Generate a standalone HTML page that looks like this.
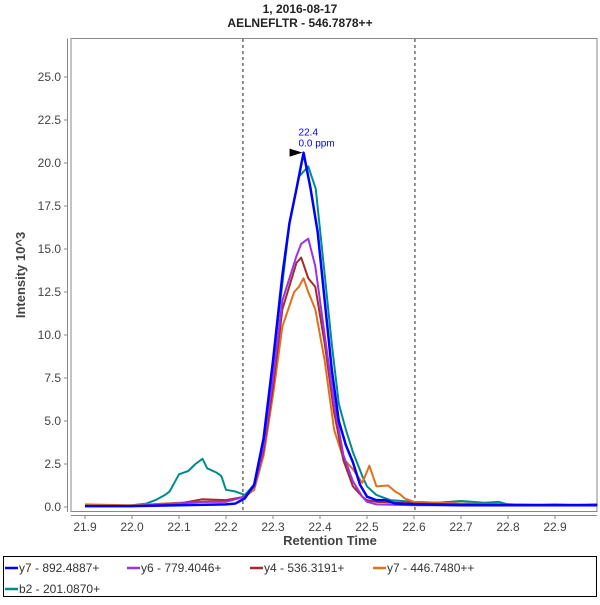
<!DOCTYPE html>
<html><head><meta charset="utf-8"><style>
body{margin:0;background:#fff;font-family:"Liberation Sans","DejaVu Sans",sans-serif;}
svg text{font-family:"Liberation Sans","DejaVu Sans",sans-serif;}
</style></head><body>
<svg id="c" width="600" height="600" xmlns="http://www.w3.org/2000/svg">
<text x="300" y="13" text-anchor="middle" font-size="12" font-weight="bold" fill="#222">1, 2016-08-17</text>
<text x="300" y="27" text-anchor="middle" font-size="12" font-weight="bold" fill="#222">AELNEFLTR - 546.7878++</text>
<rect x="71" y="38.5" width="526" height="473" fill="#fff" stroke="#888"/>
<line x1="67.5" y1="38.5" x2="67.5" y2="512" stroke="#888"/>
<line x1="71" y1="515.5" x2="597" y2="515.5" stroke="#888"/>
<g id="ticks"></g>
<g id="series"></g>
<text transform="translate(25,275) rotate(-90)" text-anchor="middle" font-size="13" font-weight="bold" fill="#444">Intensity 10^3</text>
<text x="330" y="545" text-anchor="middle" font-size="13" font-weight="bold" fill="#444">Retention Time</text>
<rect x="3.5" y="556.5" width="593" height="40" fill="#fff" stroke="#000"/>
<g id="legend"></g>
</svg>
<script>
const xTicks=[21.9,22.0,22.1,22.2,22.3,22.4,22.5,22.6,22.7,22.8,22.9];
const yTicks=[0,2.5,5,7.5,10,12.5,15,17.5,20,22.5,25];
const boundaries=[22.236,22.602];
const peakTime=22.365, peakValue=20.6;
const names=["y7 - 892.4887+","y6 - 779.4046+","y4 - 536.3191+","y7 - 446.7480++","b2 - 201.0870+"];
const colors=["#0000ff","#9a32e6","#a52a2a","#e0701e","#008b8b"];
const tB=[21.9,22.0,22.1,22.2,22.22,22.24,22.26,22.28,22.3,22.32,22.335,22.35,22.365,22.38,22.395,22.41,22.425,22.44,22.455,22.47,22.485,22.5,22.52,22.54,22.56,22.6,22.7,22.8,22.9,22.99];
const vBlue=[0.05,0.05,0.1,0.15,0.2,0.5,1.3,4,8.5,13.5,16.5,18.5,20.6,18.5,16,12,8,5,3.6,2.6,1.3,0.6,0.4,0.4,0.2,0.15,0.1,0.1,0.1,0.1];
const tTeal=[21.9,21.95,22.0,22.03,22.05,22.07,22.08,22.09,22.1,22.12,22.135,22.15,22.16,22.18,22.19,22.2,22.22,22.24,22.26,22.28,22.3,22.32,22.335,22.355,22.375,22.391,22.41,22.425,22.44,22.455,22.47,22.49,22.5,22.52,22.55,22.6,22.65,22.7,22.75,22.78,22.8,22.9,22.99];
const vTeal=[0.1,0.05,0.1,0.2,0.4,0.7,0.9,1.4,1.9,2.1,2.5,2.8,2.25,2.0,1.8,1.0,0.9,0.7,1.3,4,8.5,13,16.5,19.2,19.8,18.5,13.5,9.5,6,4.5,3.2,1.8,1.2,0.7,0.4,0.3,0.25,0.35,0.25,0.3,0.15,0.1,0.1];
const tP=[21.9,22.0,22.1,22.15,22.2,22.24,22.26,22.28,22.3,22.32,22.35,22.36,22.375,22.39,22.41,22.43,22.45,22.47,22.49,22.5,22.52,22.6,22.7,22.8,22.9,22.99];
const vPurple=[0.05,0.05,0.2,0.3,0.3,0.6,1.2,3.5,7.5,12,14.6,15.3,15.6,14,10,6,3,1.5,0.6,0.3,0.15,0.1,0.1,0.1,0.15,0.1];
const vRed=[0.05,0.05,0.2,0.45,0.4,0.6,1.2,3.3,7,11.5,14.2,14.5,13.3,12.8,9.5,5.5,2.7,1.2,0.6,0.4,0.3,0.2,0.15,0.15,0.1,0.15];
const tO=[21.9,22.0,22.1,22.15,22.2,22.24,22.26,22.28,22.3,22.32,22.345,22.355,22.365,22.375,22.39,22.41,22.43,22.45,22.47,22.49,22.505,22.52,22.545,22.56,22.57,22.58,22.6,22.7,22.8,22.9,22.99];
const vOrange=[0.15,0.1,0.25,0.3,0.35,0.6,1,3,6.5,10.5,12.5,12.8,13.3,12.5,11.5,8.5,4.5,2.8,2.2,1.4,2.4,1.2,1.25,0.9,0.75,0.5,0.3,0.2,0.15,0.1,0.1];
const series=[[tB,vBlue],[tP,vPurple],[tP,vRed],[tO,vOrange],[tTeal,vTeal]];
const order=[4,3,2,1,0];
const NS="http://www.w3.org/2000/svg";
const X=t=>85+(t-21.9)*470;
const Y=v=>507-v*17.2;
function mk(tag,attrs,parent){const e=document.createElementNS(NS,tag);for(const k in attrs)e.setAttribute(k,attrs[k]);parent.appendChild(e);return e;}
const tk=document.getElementById('ticks');
xTicks.forEach(t=>{
 const l=mk('line',{x1:X(t),x2:X(t),y1:515.5,y2:519,stroke:'#888'},tk);
 
 
 const tx=mk('text',{x:X(t),y:531,'text-anchor':'middle','font-size':'12',fill:'#444'},tk);
 tx.textContent=t.toFixed(1);
 
 
});
yTicks.forEach(v=>{
 const l=mk('line',{x1:64,x2:67.5,y1:Y(v),y2:Y(v),stroke:'#888'},tk);
 
 
 const tx=mk('text',{x:61,y:Y(v)+4,'text-anchor':'end','font-size':'12',fill:'#444'},tk);
 tx.textContent=v.toFixed(1);
 
 
});
const sg=document.getElementById('series');
boundaries.forEach(b=>{
 const l=mk('line',{x1:X(b),x2:X(b),y1:39,y2:511,stroke:'#222','stroke-dasharray':'3,3'},sg);
 
 
});
order.forEach(i=>{
 const [ts,vs]=series[i];
 const p=mk('polyline',{points:ts.map((t,j)=>X(t)+','+Y(vs[j])).join(' '),fill:'none',stroke:colors[i],'stroke-width':i==0?2.5:2,'stroke-linejoin':'round'},sg);
 
 
});
const px=X(peakTime),py=Y(peakValue);
const ar=mk('polygon',{points:`${px-1},${py} ${px-14},${py-4} ${px-14},${py+4}`,fill:'#000'},sg);


const a1=mk('text',{x:px-5,y:py-17,'font-size':'10',fill:'#0000ff'},sg);a1.textContent='22.4';


const a2=mk('text',{x:px-5,y:py-6,'font-size':'10',fill:'#0000ff'},sg);a2.textContent='0.0 ppm';


const lg=document.getElementById('legend');
const pos=[[5,572],[127,572],[250,572],[373,572],[5,593]];
names.forEach((n,i)=>{
 const [x,y]=pos[i];
 const l=mk('line',{x1:x,x2:x+13,y1:y-4,y2:y-4,stroke:colors[i],'stroke-width':2.5},lg);
 
 
 const t=mk('text',{x:x+14,y:y,'font-size':'12',fill:'#333'},lg);t.textContent=n;
 
 
});
</script>
</body></html>
